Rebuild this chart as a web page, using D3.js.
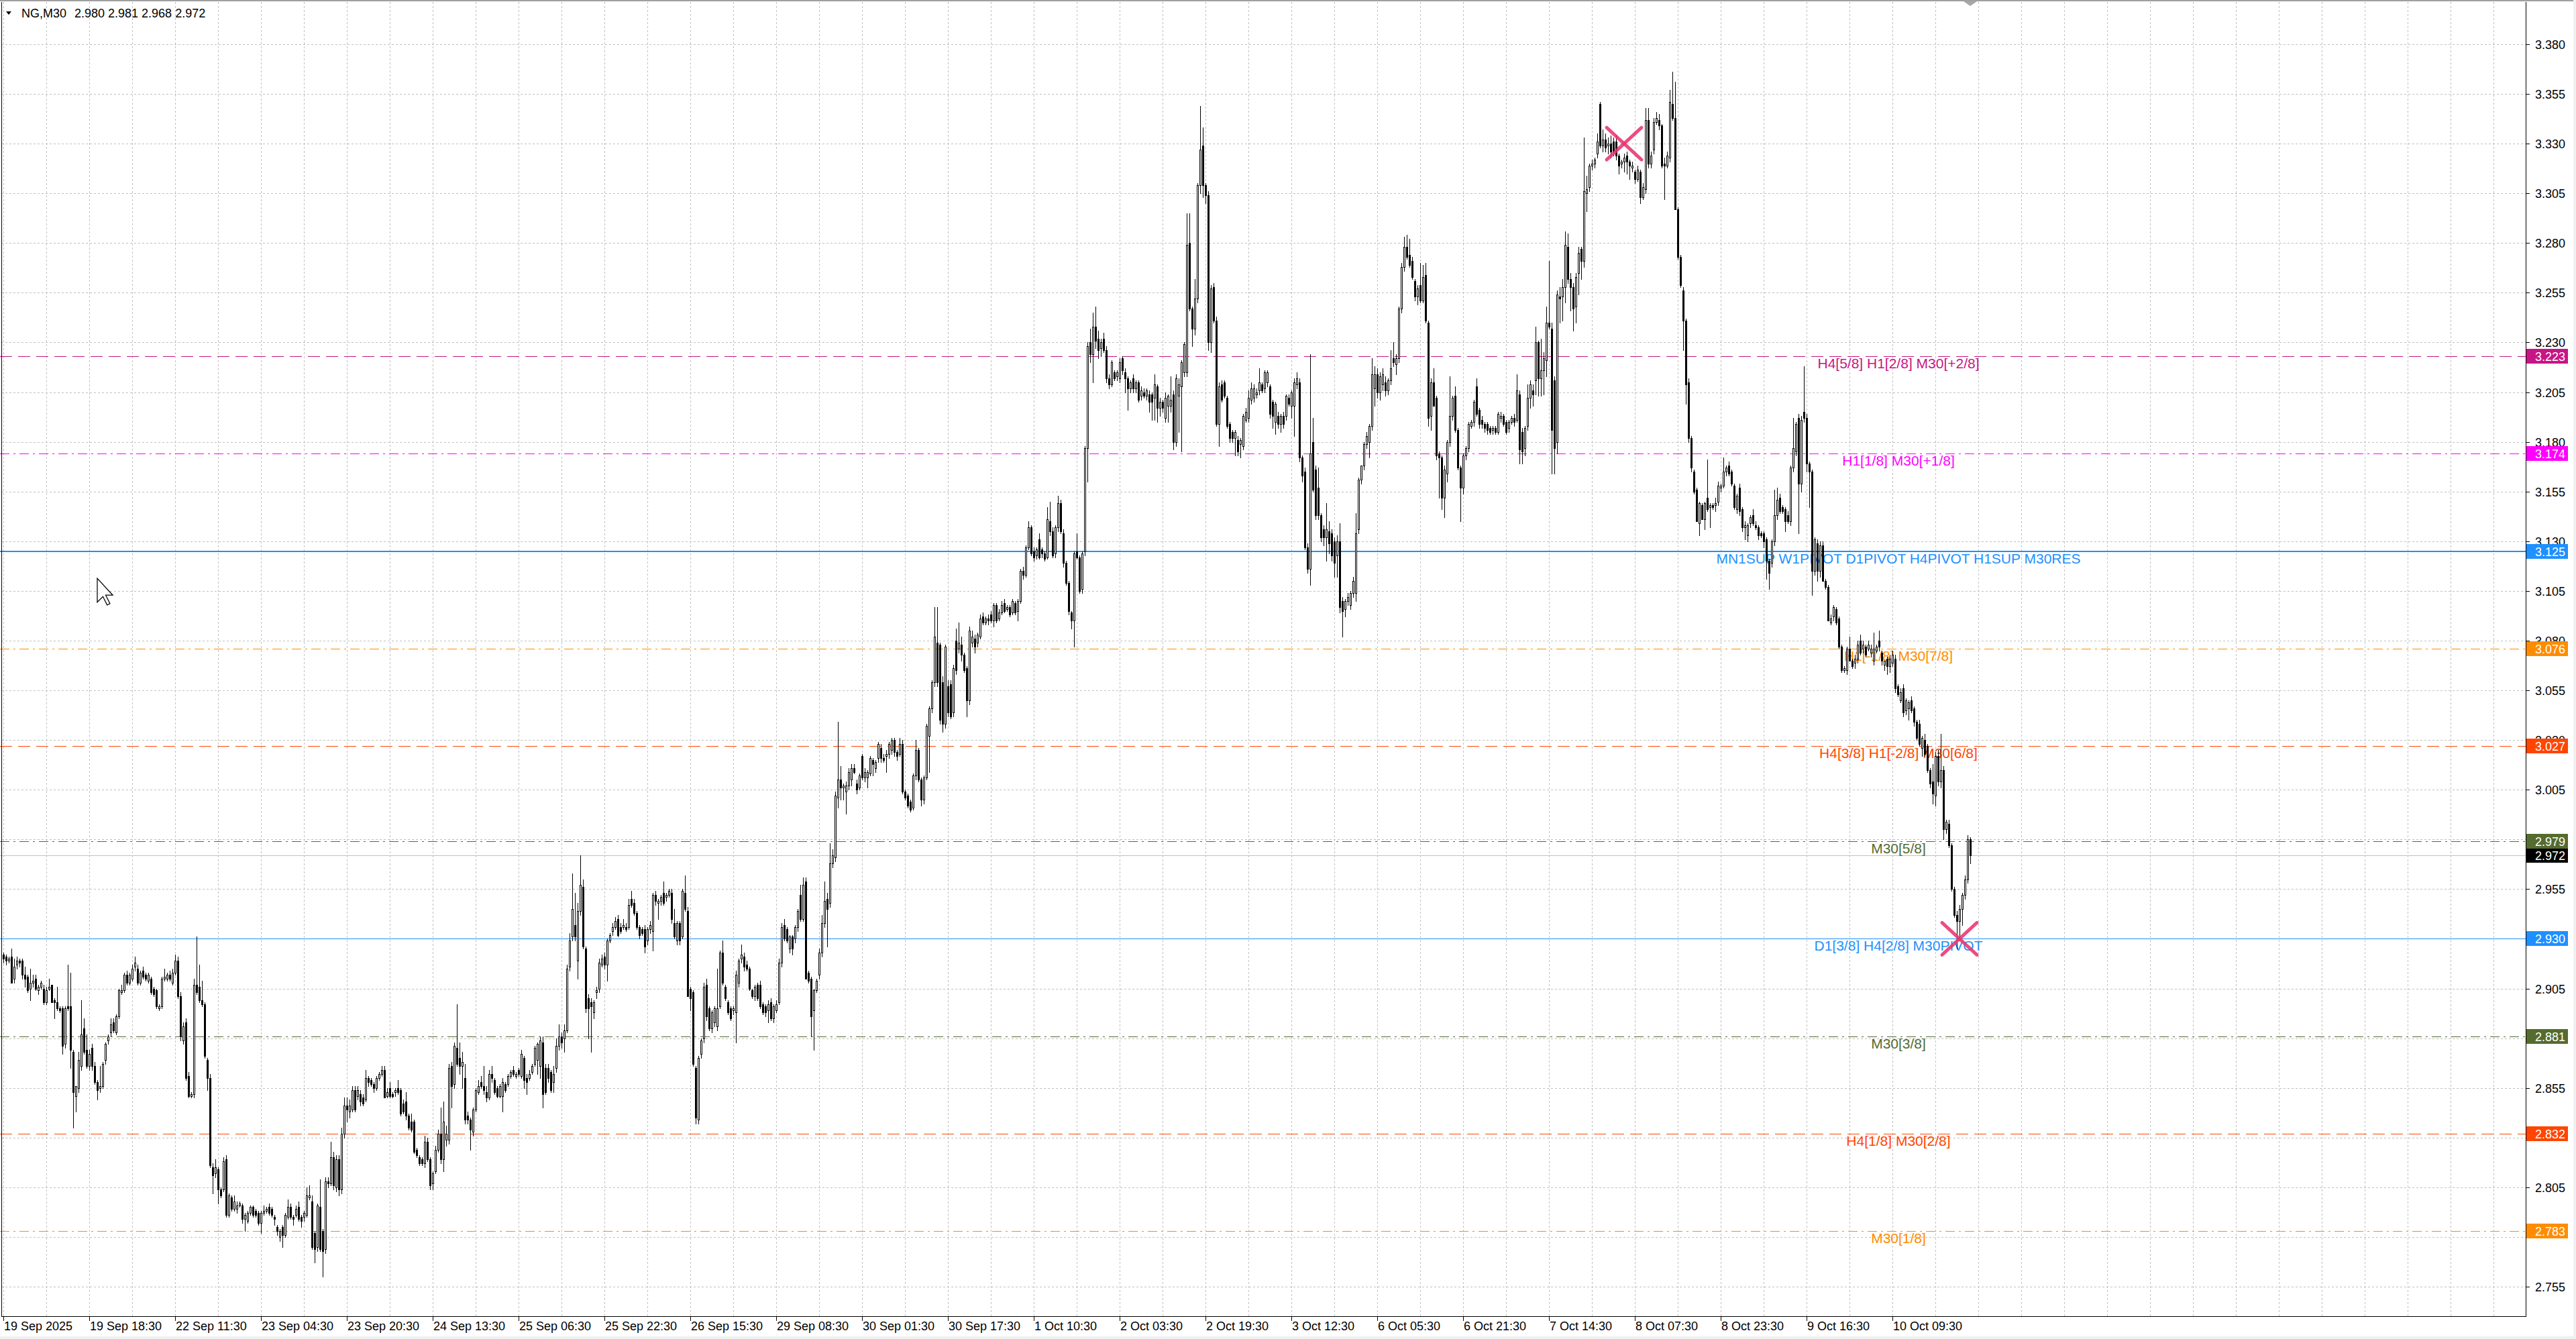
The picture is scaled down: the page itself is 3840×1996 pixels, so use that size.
<!DOCTYPE html>
<html><head><meta charset="utf-8">
<script src="https://cdn.jsdelivr.net/npm/d3@7"></script>
<style>html,body{margin:0;padding:0;background:#fff;overflow:hidden}svg{display:block}</style>
</head><body>
<script>
// ---------------- DATA ----------------
const symbolTitle = "NG,M30";
const titleValues = "2.980 2.981 2.968 2.972";
const priceTicks = [3.380,3.355,3.330,3.305,3.280,3.255,3.230,3.205,3.180,3.155,3.130,3.105,3.080,3.055,3.030,3.005,2.980,2.955,2.930,2.905,2.880,2.855,2.830,2.805,2.780,2.755];
const timeLabels = ["19 Sep 2025","19 Sep 18:30","22 Sep 11:30","23 Sep 04:30","23 Sep 20:30","24 Sep 13:30","25 Sep 06:30","25 Sep 22:30","26 Sep 15:30","29 Sep 08:30","30 Sep 01:30","30 Sep 17:30","1 Oct 10:30","2 Oct 03:30","2 Oct 19:30","3 Oct 12:30","6 Oct 05:30","6 Oct 21:30","7 Oct 14:30","8 Oct 07:30","8 Oct 23:30","9 Oct 16:30","10 Oct 09:30"];
const timeLabelBars = [0,32,64,96,128,160,192,224,256,288,320,352,384,416,448,480,512,544,576,608,640,672,704];
const levelPrices = [3.223,3.174,3.125,3.076,3.027,2.979,2.930,2.881,2.832,2.783];
const levelNames = ["H4[5/8] H1[2/8] M30[+2/8]","H1[1/8] M30[+1/8]","MN1SUP W1PIVOT D1PIVOT H4PIVOT H1SUP M30RES","H1[-1/8] M30[7/8]","H4[3/8] H1[-2/8] M30[6/8]","M30[5/8]","D1[3/8] H4[2/8] M30PIVOT","M30[3/8]","H4[1/8] M30[2/8]","M30[1/8]"];
const lastPrice = 2.972;
const markerBars = [604, 729];
const markerPrices = [3.330, 2.930];
// bars: [open, high, low, close] in thousandths of a dollar
const ohlc = [
[2922,2923,2918,2920],[2921,2922,2917,2919],[2919,2921,2918,2920],[2921,2925,2908,2908],[2910,2920,2908,2916],[2917,2921,2915,2919],[2919,2920,2916,2918],[2919,2920,2910,2912],[2912,2916,2906,2910],[2911,2912,2903,2904],
[2905,2915,2899,2908],[2908,2912,2906,2909],[2910,2912,2904,2905],[2904,2907,2902,2906],[2906,2909,2905,2908],[2905,2907,2897,2898],[2898,2906,2897,2904],[2905,2910,2904,2906],[2907,2907,2898,2898],[2899,2900,2890,2898],
[2898,2906,2894,2895],[2895,2896,2893,2894],[2895,2896,2872,2876],[2877,2896,2875,2895],[2896,2917,2894,2895],[2896,2913,2865,2874],[2873,2874,2835,2853],[2851,2856,2843,2856],[2855,2873,2853,2869],[2866,2899,2864,2882],
[2885,2890,2872,2873],[2874,2882,2865,2866],[2866,2874,2864,2872],[2875,2877,2864,2866],[2866,2868,2857,2858],[2858,2859,2849,2854],[2855,2866,2853,2856],[2856,2868,2855,2867],[2869,2878,2867,2877],[2879,2882,2877,2881],
[2883,2890,2881,2887],[2888,2890,2883,2884],[2883,2892,2882,2891],[2891,2905,2890,2904],[2903,2907,2902,2904],[2904,2913,2903,2912],[2912,2914,2907,2908],[2908,2913,2907,2912],[2910,2917,2909,2915],[2916,2921,2914,2918],
[2915,2917,2907,2908],[2908,2914,2907,2913],[2914,2916,2910,2911],[2912,2913,2909,2910],[2909,2913,2908,2912],[2910,2911,2902,2903],[2905,2906,2901,2902],[2904,2905,2895,2896],[2895,2897,2894,2896],[2896,2911,2895,2910],
[2910,2915,2909,2911],[2910,2913,2909,2912],[2912,2914,2909,2910],[2908,2915,2907,2913],[2913,2922,2912,2919],[2919,2921,2900,2901],[2901,2903,2879,2881],[2879,2888,2877,2886],[2888,2890,2859,2860],[2861,2863,2850,2851],
[2851,2853,2850,2852],[2852,2910,2850,2907],[2907,2931,2902,2903],[2906,2917,2898,2899],[2899,2909,2896,2897],[2897,2898,2870,2871],[2869,2870,2854,2860],[2860,2862,2815,2816],[2815,2817,2802,2811],[2812,2819,2810,2815],
[2814,2815,2797,2804],[2804,2805,2800,2801],[2804,2820,2803,2818],[2819,2821,2790,2791],[2791,2802,2790,2801],[2800,2801,2793,2794],[2794,2801,2793,2798],[2794,2798,2792,2796],[2796,2798,2795,2797],[2796,2797,2787,2789],
[2789,2792,2783,2791],[2788,2793,2787,2792],[2792,2796,2791,2795],[2795,2796,2790,2791],[2793,2794,2790,2791],[2792,2793,2786,2787],[2787,2793,2782,2792],[2792,2796,2791,2793],[2793,2795,2792,2794],[2795,2797,2791,2792],
[2794,2795,2790,2791],[2790,2791,2786,2789],[2785,2786,2781,2783],[2780,2784,2778,2783],[2785,2786,2775,2781],[2781,2792,2780,2791],[2790,2799,2789,2795],[2795,2797,2789,2790],[2790,2791,2786,2789],[2791,2796,2790,2794],
[2795,2798,2788,2789],[2790,2791,2785,2788],[2790,2793,2788,2792],[2791,2805,2790,2801],[2800,2806,2799,2801],[2798,2801,2774,2775],[2782,2783,2767,2774],[2775,2797,2773,2796],[2795,2809,2773,2774],[2783,2784,2760,2773],
[2774,2810,2772,2808],[2808,2810,2805,2807],[2807,2828,2806,2820],[2820,2823,2804,2806],[2805,2821,2803,2819],[2819,2821,2801,2804],[2804,2835,2802,2832],[2832,2850,2830,2846],[2846,2850,2838,2844],[2843,2849,2840,2846],
[2844,2856,2843,2854],[2854,2856,2843,2844],[2851,2856,2849,2854],[2852,2854,2846,2848],[2850,2852,2846,2847],[2849,2864,2848,2860],[2860,2861,2856,2858],[2859,2860,2856,2857],[2857,2858,2853,2855],[2855,2861,2854,2860],
[2860,2863,2859,2862],[2862,2866,2861,2864],[2864,2866,2850,2850],[2851,2855,2850,2853],[2855,2858,2850,2851],[2852,2853,2850,2851],[2853,2855,2851,2854],[2855,2859,2852,2853],[2854,2855,2841,2842],[2847,2849,2842,2843],
[2848,2853,2839,2841],[2841,2842,2834,2835],[2838,2842,2833,2834],[2838,2839,2822,2823],[2824,2825,2820,2821],[2820,2821,2816,2817],[2819,2820,2816,2817],[2817,2831,2815,2828],[2828,2830,2818,2819],[2819,2820,2804,2806],
[2807,2813,2804,2812],[2813,2826,2812,2824],[2824,2834,2823,2832],[2832,2845,2817,2819],[2819,2848,2813,2838],[2829,2836,2826,2832],[2829,2867,2827,2865],[2866,2868,2845,2856],[2857,2878,2855,2876],[2875,2897,2866,2867],
[2870,2878,2862,2866],[2866,2873,2855,2868],[2860,2867,2837,2839],[2841,2843,2837,2839],[2839,2840,2824,2834],[2833,2845,2831,2844],[2844,2855,2843,2854],[2853,2859,2852,2856],[2858,2861,2855,2856],[2856,2866,2852,2854],
[2853,2856,2848,2850],[2850,2864,2849,2862],[2862,2866,2858,2860],[2859,2860,2852,2853],[2855,2856,2850,2851],[2851,2857,2850,2856],
[2851,2860,2843,2858],[2857,2858,2853,2854],[2857,2862,2856,2861],[2861,2864,2860,2863],[2864,2866,2861,2862],[2861,2863,2860,2862],[2864,2865,2861,2862],[2861,2874,2860,2872],[2870,2871,2855,2859],[2860,2862,2852,2858],
[2860,2864,2859,2862],[2863,2867,2862,2866],[2867,2876,2866,2875],[2869,2878,2862,2877],[2866,2881,2860,2879],[2878,2881,2845,2852],[2865,2867,2852,2853],[2865,2867,2858,2860],[2863,2864,2853,2854],[2858,2866,2853,2862],
[2865,2880,2863,2876],[2876,2887,2874,2881],[2881,2883,2875,2878],[2880,2887,2873,2884],[2884,2917,2883,2915],[2916,2933,2914,2929],[2931,2963,2929,2945],[2937,2953,2929,2931],[2919,2948,2910,2944],[2944,2972,2942,2957],
[2956,2960,2925,2926],[2925,2926,2893,2895],[2900,2902,2880,2895],[2898,2900,2873,2896],[2893,2899,2890,2898],[2903,2906,2900,2904],[2905,2920,2903,2918],[2917,2922,2916,2920],[2921,2923,2915,2917],[2917,2930,2909,2929],
[2929,2933,2928,2932],[2934,2938,2932,2936],[2936,2941,2935,2939],[2940,2942,2931,2932],[2936,2938,2933,2934],[2936,2940,2935,2937],[2936,2938,2934,2935],[2936,2950,2935,2947],[2950,2954,2946,2947],[2948,2950,2942,2943],
[2943,2944,2935,2936],[2936,2937,2930,2932],[2935,2936,2932,2933],[2935,2937,2923,2926],[2929,2936,2927,2935],[2935,2939,2933,2937],[2934,2953,2924,2952],[2952,2954,2947,2949],[2948,2950,2940,2949],[2949,2952,2947,2951],
[2953,2959,2947,2948],[2951,2953,2949,2952],[2952,2955,2951,2954],[2953,2955,2938,2940],[2938,2945,2930,2931],[2929,2939,2927,2938],[2938,2939,2927,2929],[2931,2955,2930,2954],[2953,2962,2944,2945],[2944,2946,2901,2901],
[2905,2906,2894,2900],[2903,2904,2866,2867],[2865,2866,2837,2840],[2839,2871,2837,2870],[2872,2880,2870,2879],[2880,2908,2878,2906],[2907,2910,2889,2891],[2895,2896,2884,2885],[2885,2894,2883,2893],[2888,2896,2886,2895],
[2886,2915,2884,2895],[2896,2924,2895,2923],[2923,2929,2907,2908],[2906,2907,2899,2900],[2898,2899,2892,2893],[2895,2896,2889,2890],[2894,2896,2892,2895],[2893,2914,2878,2912],[2908,2920,2906,2919],[2920,2927,2918,2922],
[2921,2923,2914,2916],[2917,2919,2914,2915],[2915,2916,2904,2905],[2904,2905,2900,2901],[2901,2907,2899,2906],[2907,2908,2899,2900],[2907,2909,2895,2896],[2897,2898,2892,2893],[2896,2897,2891,2893],[2894,2899,2888,2897],
[2898,2900,2889,2890],[2890,2897,2888,2896],[2894,2899,2893,2897],[2898,2920,2897,2918],[2918,2938,2916,2936],[2937,2940,2929,2930],[2935,2936,2928,2929],[2925,2932,2923,2931],[2931,2932,2922,2925],[2930,2937,2928,2936],
[2936,2945,2934,2944],[2952,2957,2939,2940],[2940,2961,2939,2957],[2959,2961,2910,2910],[2913,2914,2908,2909],[2910,2911,2881,2891],[2894,2905,2874,2904],[2904,2910,2903,2909],[2912,2925,2910,2923],[2923,2942,2921,2938],
[2938,2959,2936,2949],[2950,2953,2926,2945],[2948,2978,2946,2968],[2968,2975,2966,2972],[2971,3004,2969,3002],[3001,3039,2996,3010],[3010,3017,3000,3006],[3006,3008,3000,3007],[3004,3009,2993,3007],[3007,3016,3005,3014],
[3010,3018,3007,3016],[3016,3018,3013,3014],[3008,3010,3003,3005],[3006,3013,3005,3012],[3022,3023,3010,3011],[3011,3016,3009,3014],[3011,3015,3006,3014],[3013,3022,3012,3021],[3020,3021,3012,3018],[3016,3020,3014,3019],
[3021,3029,3019,3028],[3026,3028,3019,3021],[3021,3023,3019,3020],[3022,3025,3014,3023],[3023,3029,3021,3028],[3025,3031,3023,3030],[3030,3031,3022,3024],[3024,3025,3020,3022],[3023,3031,3022,3028],[3028,3030,3003,3004],
[3004,3005,3000,3001],[3002,3003,2996,2997],[2999,3000,2994,2995],[2996,3013,2995,3012],[3012,3030,3010,3025],[3025,3026,3009,3010],[3010,3011,2997,3000],[3000,3012,2998,3011],[3011,3038,3010,3037],[3032,3047,3014,3046],
[3046,3060,3044,3059],[3059,3097,3057,3082],[3079,3097,3057,3059],[3078,3079,3038,3040],[3059,3062,3034,3038],[3038,3078,3036,3077],[3057,3060,3042,3044],[3058,3060,3041,3042],[3044,3068,3042,3066],[3080,3086,3063,3065],
[3076,3089,3074,3079],[3078,3082,3070,3073],[3073,3074,3064,3065],[3066,3067,3042,3050],[3050,3087,3048,3085],[3079,3085,3077,3082],[3081,3083,3074,3077],[3079,3084,3077,3083],[3082,3093,3081,3091],[3092,3094,3088,3089],
[3089,3092,3088,3091],[3091,3093,3088,3090],
[3093,3095,3089,3090],[3090,3099,3087,3098],[3098,3099,3089,3090],[3091,3096,3090,3094],[3094,3100,3093,3098],[3099,3101,3094,3095],[3096,3098,3095,3097],[3097,3098,3092,3093],[3094,3101,3093,3100],[3099,3100,3093,3094],
[3095,3101,3090,3100],[3100,3116,3099,3115],[3115,3117,3111,3113],[3113,3128,3112,3127],[3127,3140,3126,3137],[3137,3138,3123,3124],[3125,3127,3120,3122],[3123,3127,3121,3126],[3131,3134,3121,3122],[3126,3127,3122,3124],
[3124,3125,3120,3121],[3122,3147,3121,3141],[3140,3150,3133,3135],[3135,3137,3122,3123],[3124,3138,3122,3137],[3137,3153,3135,3149],[3149,3151,3134,3135],[3134,3136,3117,3119],[3119,3120,3108,3109],[3109,3110,3093,3095],
[3094,3095,3086,3090],[3090,3125,3077,3124],[3125,3134,3121,3122],[3122,3123,3104,3105],[3106,3125,3104,3124],[3125,3178,3123,3177],[3177,3230,3160,3228],[3230,3237,3220,3224],[3224,3245,3210,3238],[3238,3248,3227,3231],
[3232,3236,3222,3226],[3227,3232,3223,3230],[3232,3235,3225,3226],[3226,3228,3210,3212],[3212,3214,3207,3209],[3209,3221,3208,3220],[3215,3216,3211,3212],[3213,3216,3211,3215],[3212,3222,3210,3220],[3222,3223,3214,3216],
[3215,3217,3205,3212],[3212,3213,3196,3207],[3207,3211,3205,3210],[3212,3214,3205,3207],[3207,3211,3205,3210],[3210,3211,3200,3201],[3203,3208,3201,3206],[3205,3207,3202,3203],[3203,3207,3201,3206],[3204,3206,3195,3200],
[3204,3205,3191,3200],[3202,3214,3191,3209],[3208,3209,3190,3197],[3197,3202,3193,3200],[3200,3201,3195,3197],[3192,3205,3190,3202],[3198,3204,3190,3203],[3198,3213,3195,3201],[3204,3206,3176,3180],[3180,3214,3178,3212],
[3203,3212,3185,3209],[3208,3221,3175,3220],[3215,3230,3213,3229],[3215,3295,3213,3279],[3280,3295,3246,3247],[3247,3248,3228,3237],[3237,3262,3234,3252],[3252,3310,3250,3309],[3309,3349,3305,3327],[3329,3338,3303,3309],
[3309,3310,3300,3304],[3304,3306,3226,3230],[3230,3259,3225,3257],[3258,3260,3240,3241],[3241,3243,3188,3189],[3189,3210,3178,3208],[3209,3211,3200,3201],[3210,3211,3202,3203],[3202,3203,3187,3188],[3189,3190,3180,3182],
[3185,3186,3180,3182],[3182,3186,3173,3185],[3181,3183,3173,3175],[3179,3182,3172,3181],[3178,3194,3176,3193],[3191,3197,3190,3195],[3192,3206,3190,3202],[3201,3210,3199,3207],[3202,3209,3200,3207],[3204,3207,3202,3205],
[3206,3217,3204,3210],[3209,3210,3205,3206],[3207,3216,3205,3215],[3210,3216,3208,3215],[3208,3209,3192,3194],[3200,3201,3187,3193],[3190,3200,3184,3199],[3193,3195,3187,3189],[3189,3194,3185,3193],[3193,3195,3187,3189],
[3193,3204,3191,3203],[3202,3204,3198,3199],[3198,3206,3192,3205],[3198,3212,3183,3210],[3209,3215,3207,3212],[3210,3212,3170,3172],[3172,3173,3160,3163],[3165,3167,3126,3127],[3127,3129,3114,3116],[3116,3224,3108,3174],
[3180,3192,3155,3156],[3166,3168,3141,3143],[3157,3167,3141,3143],[3143,3144,3130,3132],[3136,3138,3128,3132],[3132,3149,3120,3136],[3135,3140,3124,3129],[3134,3136,3120,3123],[3130,3132,3112,3119],[3123,3133,3112,3130],
[3130,3139,3094,3097],[3100,3102,3082,3095],[3096,3101,3092,3100],[3100,3104,3098,3102],[3098,3105,3096,3104],[3104,3112,3102,3110],[3104,3144,3100,3134],[3136,3162,3134,3161],[3161,3168,3159,3168],[3168,3180,3166,3179],
[3179,3185,3177,3183],[3180,3189,3172,3188],[3188,3222,3186,3214],[3207,3218,3198,3214],[3214,3217,3202,3205],[3205,3215,3201,3213],[3209,3217,3206,3214],[3210,3213,3203,3206],[3206,3212,3204,3211],[3211,3226,3209,3217],
[3222,3230,3218,3220],[3219,3224,3214,3222],[3222,3248,3220,3247],[3247,3270,3245,3268],[3268,3283,3266,3278],[3278,3284,3272,3273],[3274,3282,3268,3269],[3271,3273,3262,3263],[3261,3262,3251,3253],[3253,3259,3249,3257],
[3259,3270,3250,3251],[3251,3269,3250,3263],[3264,3270,3240,3241],[3240,3241,3188,3192],[3193,3212,3186,3210],[3210,3217,3198,3198],[3202,3203,3171,3173],[3174,3175,3152,3172],[3172,3173,3146,3152],[3152,3168,3142,3166],
[3164,3181,3160,3180],[3180,3213,3178,3193],[3193,3203,3191,3202],[3203,3208,3185,3186],[3186,3187,3166,3167],[3167,3168,3140,3157],[3157,3174,3154,3173],[3173,3178,3171,3177],[3177,3190,3175,3189],[3188,3191,3187,3190],
[3190,3201,3188,3200],
[3208,3212,3193,3194],[3196,3197,3187,3189],[3191,3193,3187,3189],[3189,3190,3185,3187],[3189,3190,3184,3186],[3187,3188,3184,3185],[3186,3188,3184,3187],[3187,3188,3184,3185],[3185,3195,3184,3194],[3192,3195,3190,3193],
[3193,3194,3188,3189],[3190,3191,3184,3185],[3187,3191,3185,3190],[3190,3193,3189,3192],[3192,3194,3188,3190],[3191,3214,3190,3206],[3204,3206,3169,3176],[3185,3187,3169,3175],[3177,3188,3173,3187],[3188,3209,3186,3202],
[3202,3211,3197,3209],[3206,3209,3198,3204],[3211,3238,3204,3230],[3230,3231,3203,3212],[3212,3232,3203,3216],[3216,3225,3204,3222],[3221,3248,3213,3240],[3240,3271,3237,3238],[3237,3240,3164,3186],[3211,3213,3164,3177],
[3180,3256,3174,3254],[3253,3258,3240,3252],[3253,3262,3241,3258],[3258,3286,3250,3279],[3278,3285,3260,3262],[3262,3265,3246,3258],[3258,3260,3236,3247],[3248,3265,3240,3263],[3265,3278,3254,3275],[3277,3278,3262,3271],
[3271,3333,3268,3306],[3305,3314,3296,3307],[3308,3320,3306,3319],[3319,3322,3317,3320],[3320,3323,3318,3322],[3325,3335,3323,3331],[3350,3351,3328,3329],[3329,3337,3326,3332],[3332,3335,3326,3328],[3329,3333,3325,3330],
[3330,3334,3323,3326],[3331,3333,3324,3326],[3331,3334,3322,3324],[3324,3325,3315,3319],[3320,3322,3318,3321],[3321,3325,3316,3323],[3324,3326,3315,3321],[3321,3322,3312,3319],[3318,3321,3316,3319],[3316,3317,3310,3312],
[3312,3319,3311,3317],[3316,3317,3300,3303],[3303,3310,3302,3308],[3307,3348,3305,3342],[3342,3348,3318,3320],[3320,3326,3318,3324],[3327,3343,3325,3341],[3341,3346,3340,3343],[3342,3345,3337,3339],[3339,3340,3318,3319],
[3320,3323,3302,3319],[3319,3326,3318,3324],[3323,3357,3321,3351],[3350,3366,3342,3343],[3343,3361,3297,3297],[3297,3298,3272,3273],[3273,3274,3258,3259],[3256,3258,3226,3241],[3241,3242,3199,3209],[3210,3212,3180,3182],
[3182,3183,3165,3167],[3165,3166,3154,3155],[3156,3157,3140,3140],[3139,3150,3133,3149],[3148,3149,3141,3141],[3141,3150,3136,3149],[3152,3171,3145,3146],[3147,3149,3137,3148],[3148,3149,3146,3147],[3148,3152,3145,3149],
[3150,3160,3148,3158],[3157,3159,3155,3158],[3158,3172,3157,3165],[3165,3168,3163,3167],[3168,3170,3163,3164],[3165,3166,3158,3159],[3158,3159,3146,3147],[3146,3154,3144,3153],[3157,3159,3143,3145],[3146,3147,3135,3137],
[3137,3140,3131,3138],[3133,3139,3130,3138],[3139,3143,3137,3142],[3143,3146,3138,3139],[3138,3140,3136,3137],[3137,3138,3131,3133],[3134,3135,3132,3133],[3134,3135,3127,3130],[3131,3132,3111,3120],[3120,3121,3106,3114],
[3119,3131,3117,3130],[3130,3156,3128,3143],[3143,3157,3141,3151],[3152,3154,3144,3145],[3147,3148,3144,3145],[3146,3147,3135,3140],[3143,3145,3139,3140],[3140,3168,3138,3167],[3167,3192,3165,3177],[3175,3190,3173,3189],
[3192,3194,3134,3159],[3159,3193,3155,3191],[3195,3218,3190,3192],[3192,3194,3165,3169],[3169,3170,3147,3165],[3165,3166,3103,3115],[3115,3132,3113,3131],[3129,3131,3110,3115],[3115,3130,3112,3128],[3128,3130,3110,3110],
[3110,3111,3106,3107],[3107,3108,3090,3090],[3089,3093,3088,3091],[3092,3098,3090,3097],[3096,3097,3088,3089],[3091,3092,3076,3077],[3077,3078,3064,3065],[3065,3067,3064,3066],[3065,3077,3063,3076],[3076,3082,3070,3070],
[3070,3071,3066,3067],[3069,3073,3066,3071],[3071,3080,3069,3078],[3080,3083,3073,3074],[3076,3080,3074,3078],[3077,3078,3072,3073],[3076,3080,3075,3078],[3074,3078,3072,3076],[3070,3084,3068,3076],[3075,3078,3074,3077],
[3080,3085,3075,3077],[3074,3075,3068,3070],[3068,3070,3065,3070],[3071,3072,3063,3067],[3067,3073,3064,3071],[3069,3075,3067,3073],[3071,3073,3054,3056],
[3057,3058,3052,3053],[3050,3056,3049,3054],[3056,3058,3042,3044],[3045,3051,3043,3050],[3046,3050,3040,3049],[3050,3052,3044,3045],[3046,3047,3037,3039],[3039,3040,3030,3031],[3038,3040,3027,3028],[3026,3032,3022,3031],
[3030,3033,3022,3023],[3027,3028,3014,3015],[3015,3016,3006,3008],[3009,3018,2998,3003],[3002,3024,2997,3022],[3022,3025,3007,3009],[3009,3033,3006,3015],[3015,3017,2980,2985],[2985,2990,2983,2989],[2988,2990,2976,2977],
[2977,2978,2954,2955],[2955,2956,2941,2942],[2942,2944,2925,2939],[2939,2947,2929,2945],[2945,2953,2937,2952],[2952,2962,2950,2960],[2960,2982,2958,2980],[2980,2981,2968,2972]
];
const PRICE_UNIT = 1000;

// ---------------- STYLE / LAYOUT ----------------
const W = 3840, H = 1996;
const plotLeft = 2, plotRight = 3765, plotTop = 3, plotBottom = 1962;
const levelStyle = [
  {color:"#C71585", dash:"18,9", width:1},
  {color:"#FF00FF", dash:"14,6,3,6", width:1},
  {color:"#1E90FF", dash:null, width:2},
  {color:"#FF8C00", dash:"14,6,3,6", width:1},
  {color:"#FF4500", dash:"18,9", width:1},
  {color:"#556B2F", dash:"14,6,3,6", width:1},
  {color:"#1E90FF", dash:null, width:1},
  {color:"#556B2F", dash:"14,6,3,6", width:1},
  {color:"#FF4500", dash:"18,9", width:1},
  {color:"#FF8C00", dash:"14,6,3,6", width:1}
];
const FONT = "'Liberation Sans', Arial, sans-serif";

const bars = ohlc.map((d, i) => ({i, o:d[0]/PRICE_UNIT, h:d[1]/PRICE_UNIT, l:d[2]/PRICE_UNIT, c:d[3]/PRICE_UNIT}));
const n = bars.length;

const x = d3.scaleLinear().domain([0, n - 1]).range([5, 5 + 4 * (n - 1)]);
const y = d3.scaleLinear().domain([2.755, 3.380]).range([1918, 66]);
const px = v => Math.round(x(v));
const py = v => Math.round(y(v));

const svg = d3.select("body").append("svg")
  .attr("width", W).attr("height", H)
  .attr("viewBox", `0 0 ${W} ${H}`);

// window background
svg.append("rect").attr("width", W).attr("height", H).attr("fill", "#f0f0f0");
svg.append("rect").attr("x", 0).attr("y", 0).attr("width", 3836).attr("height", 1992).attr("fill", "#ffffff");
svg.append("rect").attr("x", 0).attr("y", 0).attr("width", 3836).attr("height", 2).attr("fill", "#a0a0a0");

const gGrid = svg.append("g").attr("shape-rendering", "crispEdges");
// horizontal grid
gGrid.selectAll("line.hg").data(priceTicks).join("line")
  .attr("x1", plotLeft).attr("x2", plotRight)
  .attr("y1", d => py(d) + 0.5).attr("y2", d => py(d) + 0.5)
  .attr("stroke", "#c0c0c0").attr("stroke-width", 1).attr("stroke-dasharray", "3,3");
// vertical grid (every 16 bars)
const vBars = d3.range(0, Math.floor(x.invert(plotRight)) + 1, 16);
gGrid.selectAll("line.vg").data(vBars).join("line")
  .attr("x1", d => px(d) + 0.5).attr("x2", d => px(d) + 0.5)
  .attr("y1", plotTop).attr("y2", plotBottom)
  .attr("stroke", "#c0c0c0").attr("stroke-width", 1).attr("stroke-dasharray", "3,3");

// level lines
const gLev = svg.append("g").attr("shape-rendering", "crispEdges");
levelPrices.forEach((p, k) => {
  const st = levelStyle[k];
  const yy = py(p) + (st.width === 2 ? 0 : 0.5);
  const ln = gLev.append("line").attr("x1", 0).attr("x2", plotRight)
    .attr("y1", yy).attr("y2", yy)
    .attr("stroke", st.color).attr("stroke-width", st.width);
  if (st.dash) ln.attr("stroke-dasharray", st.dash);
});
// current price line
gLev.append("line").attr("x1", 0).attr("x2", plotRight)
  .attr("y1", py(lastPrice) + 0.5).attr("y2", py(lastPrice) + 0.5)
  .attr("stroke", "#c0c0c0").attr("stroke-width", 1);

// level labels
svg.append("g").selectAll("text").data(levelPrices).join("text")
  .attr("x", 2830).attr("y", d => py(d) + 18)
  .attr("text-anchor", "middle")
  .attr("font-family", FONT).attr("font-size", 21)
  .attr("fill", (d, k) => levelStyle[k].color)
  .text((d, k) => levelNames[k]);

// candles
const gC = svg.append("g").attr("shape-rendering", "crispEdges");
const cs = gC.selectAll("g").data(bars).join("g");
cs.append("rect")
  .attr("x", d => px(d.i)).attr("width", 1)
  .attr("y", d => py(Math.max(d.h, d.o, d.c)))
  .attr("height", d => Math.max(1, py(Math.min(d.l, d.o, d.c)) - py(Math.max(d.h, d.o, d.c)) + 1))
  .attr("fill", "#000");
cs.append("rect")
  .attr("x", d => px(d.i) - 1).attr("width", 3)
  .attr("y", d => py(Math.max(d.o, d.c)))
  .attr("height", d => Math.max(1, py(Math.min(d.o, d.c)) - py(Math.max(d.o, d.c)) + 1))
  .attr("fill", "#000");
cs.filter(d => d.c > d.o && (py(d.o) - py(d.c)) >= 2).append("rect")
  .attr("x", d => px(d.i)).attr("width", 1)
  .attr("y", d => py(d.c) + 1)
  .attr("height", d => py(d.o) - py(d.c) - 1)
  .attr("fill", "#fff");

// X markers
const gM = svg.append("g");
markerBars.forEach((b, k) => {
  const cx = x(b), cy = y(markerPrices[k]);
  const hw = 26, hh = 24;
  [[-1,-1,1,1],[-1,1,1,-1]].forEach(s => {
    gM.append("line")
      .attr("x1", cx + s[0]*hw).attr("y1", cy + s[1]*hh)
      .attr("x2", cx + s[2]*hw).attr("y2", cy + s[3]*hh)
      .attr("stroke", "#e8346e").attr("stroke-opacity", 0.88)
      .attr("stroke-width", 5).attr("stroke-linecap", "round");
  });
});

// frame
const gF = svg.append("g").attr("shape-rendering", "crispEdges");
gF.append("line").attr("x1", plotLeft + 0.5).attr("x2", plotLeft + 0.5).attr("y1", plotTop).attr("y2", plotBottom + 1).attr("stroke", "#000");
gF.append("line").attr("x1", plotRight + 0.5).attr("x2", plotRight + 0.5).attr("y1", plotTop).attr("y2", plotBottom + 1).attr("stroke", "#000");
gF.append("line").attr("x1", plotLeft).attr("x2", plotRight + 1).attr("y1", plotBottom + 0.5).attr("y2", plotBottom + 0.5).attr("stroke", "#000");

// price axis
const shownTicks = priceTicks.filter(t => !levelPrices.some(l => t <= l + 1e-9 && l - t < 0.005));
gF.selectAll("line.pt").data(priceTicks).join("line")
  .attr("x1", plotRight).attr("x2", plotRight + 6)
  .attr("y1", d => py(d) + 0.5).attr("y2", d => py(d) + 0.5).attr("stroke", "#000");
svg.append("g").selectAll("text").data(shownTicks).join("text")
  .attr("x", 3779).attr("y", d => py(d) + 6.5)
  .attr("font-family", FONT).attr("font-size", 18).attr("fill", "#000")
  .text(d => d.toFixed(3));

// time axis
gF.selectAll("line.tt").data(timeLabelBars).join("line")
  .attr("x1", d => px(d) + 0.5).attr("x2", d => px(d) + 0.5)
  .attr("y1", plotBottom).attr("y2", plotBottom + 7).attr("stroke", "#000");
svg.append("g").selectAll("text").data(timeLabels).join("text")
  .attr("x", (d, k) => Math.max(3, px(timeLabelBars[k]) + 1)).attr("y", 1983)
  .attr("font-family", FONT).attr("font-size", 18).attr("fill", "#000")
  .text(d => d);

// price boxes (current price first, levels on top)
const gB = svg.append("g");
function priceBox(p, fill) {
  const cy = py(p);
  gB.append("rect").attr("x", 3766).attr("y", cy - 11).attr("width", 62).attr("height", 22)
    .attr("fill", fill).attr("shape-rendering", "crispEdges");
  gB.append("text").attr("x", 3779).attr("y", cy + 6.5)
    .attr("font-family", FONT).attr("font-size", 18).attr("fill", "#fff")
    .text(p.toFixed(3));
}
priceBox(lastPrice, "#000000");
levelPrices.forEach((p, k) => priceBox(p, levelStyle[k].color));

// title
svg.append("path").attr("d", "M9,17 L17,17 L13,22 Z").attr("fill", "#000");
svg.append("text").attr("x", 32).attr("y", 26).attr("font-family", FONT).attr("font-size", 18).text(symbolTitle);
svg.append("text").attr("x", 111).attr("y", 26).attr("font-family", FONT).attr("font-size", 18).text(titleValues);

// chart shift marker
svg.append("path").attr("d", `M${px(n-1)-10},2 L${px(n-1)+10},2 L${px(n-1)},9 Z`).attr("fill", "#a8a8a8");

// mouse cursor
svg.append("path")
  .attr("d", "M0,0 L0,17 L4,13 L7,19 L9,18 L6,12 L11,12 Z")
  .attr("transform", "translate(145,862) scale(2.1)")
  .attr("fill", "#fff").attr("stroke", "#000").attr("stroke-width", 0.6)
  .attr("stroke-linejoin", "miter");
</script>
</body></html>
